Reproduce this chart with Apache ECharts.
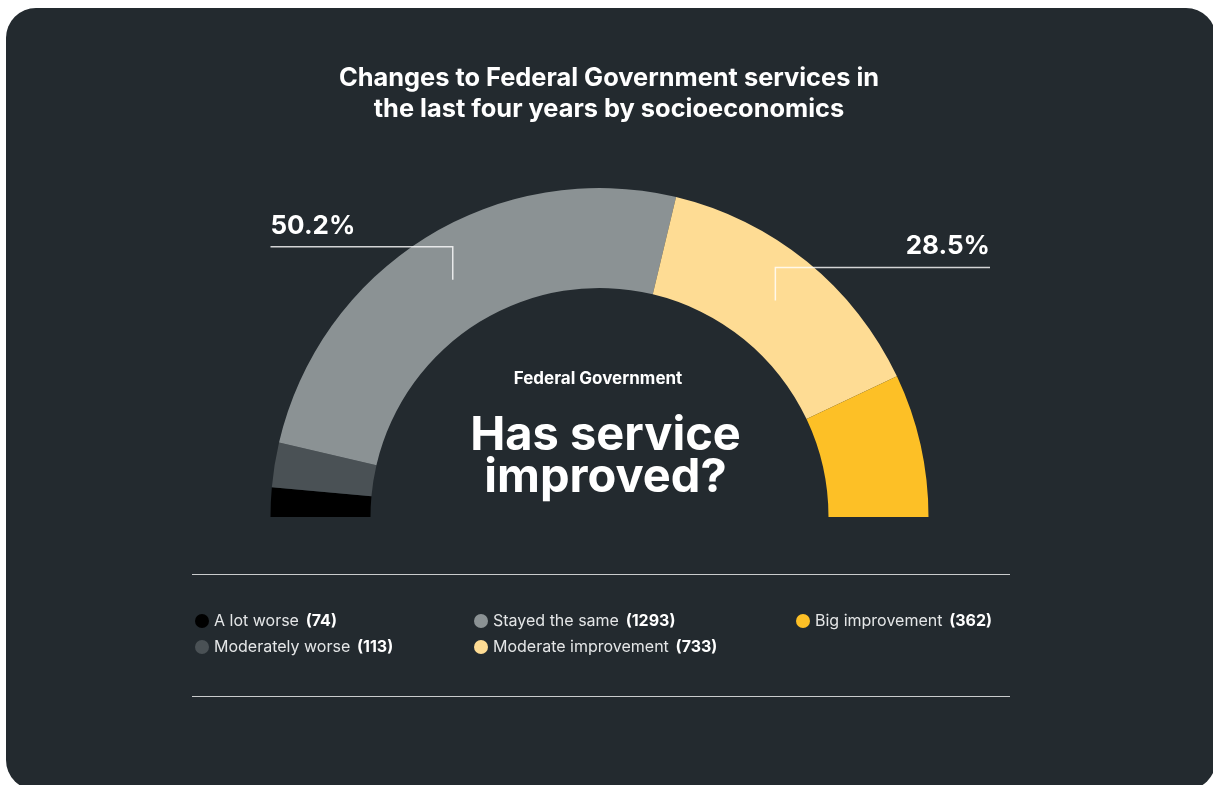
<!DOCTYPE html>
<html>
<head>
<meta charset="utf-8">
<script src="https://cdn.jsdelivr.net/npm/echarts@6/dist/echarts.min.js"></script>
<style>
  html, body { margin: 0; padding: 0; background: #ffffff; }
  #chart { width: 1213px; height: 785px; }
</style>
</head>
<body>
<div id="chart"></div>
<script>
// Survey answers, ordered from worst to best
const categories = ['A lot worse', 'Moderately worse', 'Stayed the same', 'Moderate improvement', 'Big improvement'];
const counts = [74, 113, 1293, 733, 362];
const colors = ['#000000', '#4a5155', '#8b9294', '#fedc94', '#fdc026'];
// Slices that get a percentage callout, and which side the callout runs to
const calloutItems = [2, 3];
const calloutSides = ['left', 'right'];

const FONT = 'Inter, "Noto Sans", sans-serif';
const CARD = '#232a2f';
const CX = 599.5, CY = 517, R0 = 229, R1 = 329;

const total = counts.reduce((a, b) => a + b, 0);
const pct = v => (v / total * 100).toFixed(1) + '%';

const chart = echarts.init(document.getElementById('chart'), null, { renderer: 'canvas' });

function legendFor(names, left) {
  return {
    orient: 'vertical',
    left: left,
    top: 613,
    padding: 0,
    icon: 'circle',
    itemWidth: 14,
    itemHeight: 14,
    itemGap: 10,
    selectedMode: false,
    data: names,
    formatter: name => '{n|' + name + '}  {v|(' + counts[categories.indexOf(name)] + ')}',
    textStyle: {
      fontFamily: FONT,
      lineHeight: 16,
      rich: {
        n: { color: '#e4e6e7', fontSize: 16, fontFamily: FONT },
        v: { color: '#ffffff', fontSize: 16, fontWeight: 'bold', fontFamily: FONT }
      }
    }
  };
}

const option = {
  animation: false,
  title: {
    text: 'Changes to Federal Government services in\nthe last four years by socioeconomics',
    left: 609,
    top: 63,
    padding: 0,
    textAlign: 'center',
    textStyle: {
      color: '#ffffff',
      fontFamily: FONT,
      fontWeight: 'bold',
      fontSize: 25.4,
      lineHeight: 31
    }
  },
  legend: [
    legendFor(categories.slice(0, 2), 195),
    legendFor(categories.slice(2, 4), 474),
    legendFor(categories.slice(4, 5), 796)
  ],
  graphic: [
    {
      type: 'rect', z: -10, silent: true,
      shape: { x: 6, y: 8, width: 1210, height: 782, r: 30 },
      style: { fill: CARD }
    },
    {
      type: 'line', silent: true,
      shape: { x1: 192, y1: 574.5, x2: 1010, y2: 574.5 },
      style: { stroke: '#c9cccd', lineWidth: 1 }
    },
    {
      type: 'line', silent: true,
      shape: { x1: 192, y1: 696.5, x2: 1010, y2: 696.5 },
      style: { stroke: '#c9cccd', lineWidth: 1 }
    },
    {
      type: 'text', silent: true,
      style: {
        text: 'Federal Government', x: 598, y: 379,
        align: 'center', verticalAlign: 'middle',
        fill: '#ffffff', font: 'bold 17px ' + FONT
      }
    },
    {
      type: 'text', silent: true,
      style: {
        text: 'Has service\nimproved?', x: 605.5, y: 457,
        align: 'center', verticalAlign: 'middle', lineHeight: 42,
        fill: '#ffffff', font: 'bold 47px ' + FONT
      }
    }
  ],
  series: [{
    type: 'pie',
    center: [CX, CY],
    radius: [R0, R1],
    startAngle: 180,
    endAngle: 0,
    clockwise: true,
    silent: true,
    label: { show: false },
    labelLine: { show: false },
    itemStyle: { borderWidth: 0 },
    data: categories.map((name, i) => ({
      name: name,
      value: counts[i],
      itemStyle: { color: colors[i] }
    }))
  }]
};

chart.setOption(option);

// Percentage callouts: a bracket from the middle of the ring out to a label
const data = chart.getModel().getSeriesByIndex(0).getData();
const extra = [];
calloutItems.forEach((idx, k) => {
  const lay = data.getItemLayout(idx);
  const mid = (lay.startAngle + lay.endAngle) / 2;
  const rm = (lay.r + lay.r0) / 2;
  const ax = lay.cx + rm * Math.cos(mid);
  const ay = lay.cy + rm * Math.sin(mid);
  const ly = ay - 33;
  const side = calloutSides[k];
  const ex = side === 'left' ? lay.cx - lay.r : 990;
  extra.push({
    type: 'polyline', silent: true, z: 10,
    shape: { points: [[ax, ay], [ax, ly], [ex, ly]] },
    style: { stroke: 'rgba(255,255,255,0.8)', lineWidth: 1.5, fill: null }
  });
  extra.push({
    type: 'text', silent: true, z: 10,
    style: {
      text: pct(counts[idx]), x: ex, y: ly - 21,
      align: side === 'left' ? 'left' : 'right', verticalAlign: 'middle',
      fill: '#ffffff', font: 'bold 26px ' + FONT
    }
  });
});
chart.setOption({ graphic: option.graphic.concat(extra) });
</script>
</body>
</html>
